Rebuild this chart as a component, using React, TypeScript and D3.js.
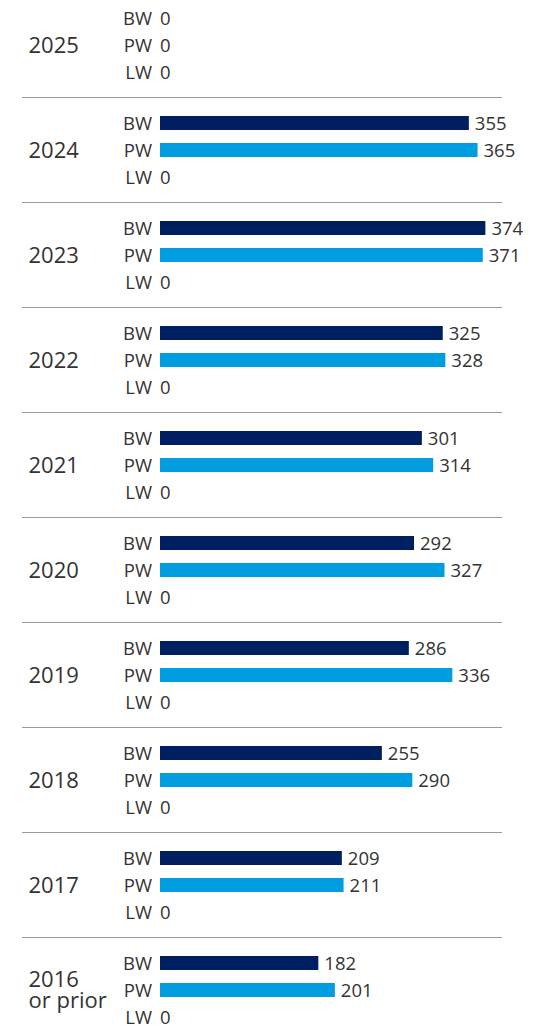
import React from "react";
import * as d3 from "d3";

const years = ["2025", "2024", "2023", "2022", "2021", "2020", "2019", "2018", "2017", "2016 or prior"];
const seriesKeys = ["BW", "PW", "LW"];
const bwValues = [0, 355, 374, 325, 301, 292, 286, 255, 209, 182];
const pwValues = [0, 365, 371, 328, 314, 327, 336, 290, 211, 201];
const lwValues = [0, 0, 0, 0, 0, 0, 0, 0, 0, 0];
const seriesColors: Record<string, string> = { BW: "#001f60", PW: "#009de0", LW: "#7f7f7f" };

const W = 547;
const H = 1026;
const FONT = "'Open Sans', 'Noto Sans', sans-serif";
const TEXT = "#333333";

export default function App() {
  const y = d3.scaleBand<string>().domain(years).range([-7.5, -7.5 + 105 * years.length]).paddingInner(0);
  const row = d3.scalePoint<string>().domain(seriesKeys).range([25.5, 79.5]);
  const x = d3.scaleLinear().domain([0, 400]).range([160, 508]);
  const barH = 14;

  const data = years.map((yr, i) => ({
    year: yr,
    values: { BW: bwValues[i], PW: pwValues[i], LW: lwValues[i] } as Record<string, number>,
  }));

  return (
    <svg
      width={W}
      height={H}
      style={{ position: "absolute", left: 0, top: 0, background: "#fff" }}
      fontFamily={FONT}
    >
      {data.map((d, i) => {
        const g0 = y(d.year)!;
        const center = g0 + y.bandwidth() / 2;
        const lines = d.year.includes(" ") ? ["2016", "or prior"] : [d.year];
        return (
          <g key={d.year}>
            {i > 0 && (
              <line x1={22} x2={502} y1={g0} y2={g0} stroke="#9a9a9a" strokeWidth={1.2} />
            )}
            {lines.length === 1 ? (
              <text x={28.5} y={center} dy="0.36em" fontSize={22} fill={TEXT}>
                {lines[0]}
              </text>
            ) : (
              <text x={28.5} y={center} fontSize={22} fill={TEXT}>
                <tspan x={28.5} dy="-0.15em">{lines[0]}</tspan>
                <tspan x={28.5} dy="0.95em">{lines[1]}</tspan>
              </text>
            )}
            {seriesKeys.map((k) => {
              const cy = g0 + row(k)!;
              const v = d.values[k];
              const x1 = x(v);
              return (
                <g key={k}>
                  <text x={152} y={cy} dy="0.36em" textAnchor="end" fontSize={18.5} fill={TEXT}>
                    {k}
                  </text>
                  {v > 0 && (
                    <rect x={x(0)} y={cy - barH / 2} width={x1 - x(0)} height={barH} fill={seriesColors[k]} />
                  )}
                  <text x={v > 0 ? x1 + 6 : x(0)} y={cy} dy="0.36em" fontSize={18.5} fill={TEXT}>
                    {v}
                  </text>
                </g>
              );
            })}
          </g>
        );
      })}
    </svg>
  );
}
